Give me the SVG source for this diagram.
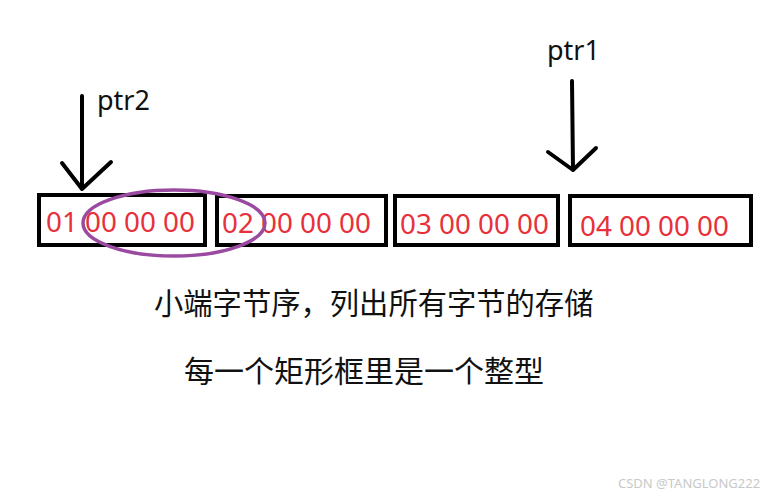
<svg xmlns="http://www.w3.org/2000/svg" width="777" height="497" viewBox="0 0 777 497">
<style>
.box{fill:none;stroke:#000;stroke-width:4}
.val{font-family:"Noto Sans","Liberation Sans",sans-serif;font-size:27.8px;fill:#e8303a}
.lbl{font-family:"Noto Sans","Liberation Sans",sans-serif;font-size:27px;fill:#111}
.arr{fill:none;stroke:#000;stroke-width:4;stroke-linecap:round;stroke-linejoin:round}
.cn{font-family:"Noto Sans CJK SC","Noto Sans",sans-serif;fill:#111}
</style>
<rect width="777" height="497" fill="#fff"/>
<g id="connectors">
<path class="arr" d="M82 96 L82 189 M62 163 L82 189 L111 162"/>
<path class="arr" d="M572 81 L573 170 M548 152 L573 170 L596 148"/>
</g>
<g id="box1"><rect class="box" x="39" y="195" width="166" height="50"/><text class="val" x="46" y="232">01 00 00 00</text></g>
<g id="box2"><rect class="box" x="217" y="196" width="169" height="49"/><text class="val" x="222" y="233">02 00 00 00</text></g>
<g id="box3"><rect class="box" x="395" y="196" width="163" height="49"/><text class="val" x="400" y="234">03 00 00 00</text></g>
<g id="box4"><rect class="box" x="570" y="196" width="181" height="49"/><text class="val" x="580" y="236">04 00 00 00</text></g>
<g id="overlap"><ellipse cx="174" cy="223" rx="91" ry="33" fill="none" stroke="#9a4aa0" stroke-width="3.5"/></g>
<g id="ptr2"><text class="lbl" x="97" y="110">ptr2</text></g>
<g id="ptr1"><text class="lbl" x="547" y="60">ptr1</text></g>
<g id="notes">
<text class="cn" x="154" y="314" font-size="29.3">小端字节序，列出所有字节的存储</text>
<text class="cn" x="184" y="382" font-size="30">每一个矩形框里是一个整型</text>
</g>
<text x="618" y="488" font-family="Noto Sans, sans-serif" font-size="13" fill="#c8c8c8">CSDN @TANGLONG222</text>
</svg>
